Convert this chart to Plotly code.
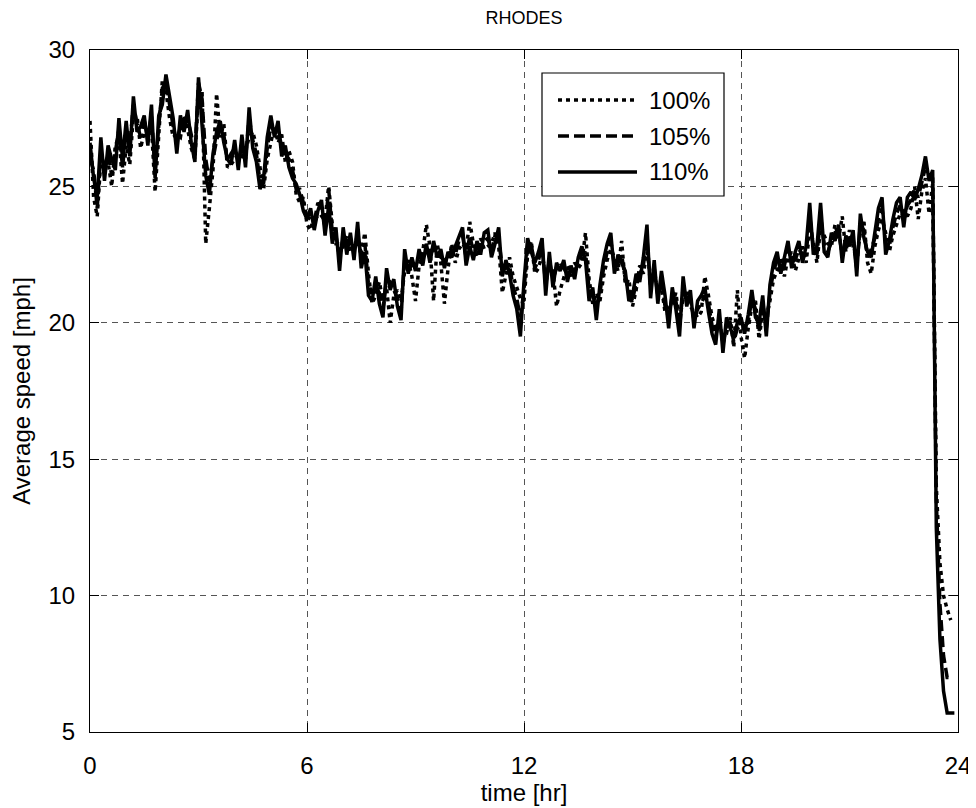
import plotly.graph_objects as go

# ---- data (average speed, mph) sampled every 0.1 hr ----
T_STEP = 0.1

speed_110 = [
    26.6, 25.3, 24.6, 26.8, 25.2, 26.5, 26.0, 25.6, 27.5, 26.0,
    27.4, 26.1, 28.3, 27.0, 27.2, 27.6, 26.5, 28.0, 25.3, 27.6,
    28.0, 29.1, 28.3, 27.5, 26.2, 27.6, 27.0, 27.8, 26.6, 25.9,
    29.0, 27.2, 25.4, 24.7, 26.2, 27.0, 27.4, 26.6, 26.0, 25.8,
    26.7, 25.6, 26.9, 25.7, 27.9, 26.4, 25.9, 24.9, 25.3, 26.8,
    27.6, 26.8, 27.4, 26.1, 26.5, 25.7, 25.3, 25.1, 24.7, 24.1,
    23.8, 24.2, 23.4, 24.1, 24.5, 23.2, 24.3, 22.9, 23.5, 21.9,
    23.5, 22.5, 23.3, 22.3, 23.7, 22.0, 22.6, 21.0, 20.8, 21.7,
    20.7, 20.2, 22.0, 21.2, 21.6, 20.6, 20.1, 22.7, 21.8, 22.4,
    21.9, 22.7, 22.1, 22.9, 22.2, 23.0, 22.4, 22.7, 22.0, 22.6,
    22.4, 22.8, 23.2, 23.5, 22.1, 22.8, 22.3, 23.0, 22.5, 23.3,
    23.4, 22.4, 22.9, 23.5, 21.7, 22.3, 21.8, 21.0, 20.5, 19.5,
    21.5, 23.1, 22.6, 22.2, 22.6, 23.1, 21.0, 22.6, 21.3, 22.2,
    21.9, 22.3, 21.5, 22.1, 21.6, 22.4, 22.8, 22.3, 20.8, 21.3,
    20.1, 21.4, 22.3, 22.9, 23.3, 21.8, 22.5, 22.2, 21.9, 20.8,
    21.0, 21.8, 21.5, 22.4, 23.6, 20.9, 22.3, 20.7, 21.9, 21.0,
    19.8, 21.3, 20.5, 19.5, 21.7, 20.6, 21.2, 19.8, 20.8, 21.0,
    21.3, 20.4, 19.6, 19.2, 20.5, 18.9, 20.2, 19.8, 19.5, 20.0,
    20.2, 19.6, 20.3, 21.2, 20.2, 20.0, 21.0, 19.5, 21.4, 22.2,
    22.6, 21.8, 22.4, 23.0, 22.0, 22.6, 23.0, 22.2, 22.8, 24.4,
    22.5, 22.8, 24.4, 22.6, 22.4, 23.3, 23.0, 23.6, 22.2, 23.2,
    22.8, 23.4, 21.7, 24.0, 23.1, 22.6, 22.4, 23.4, 24.2, 24.6,
    22.5, 23.0, 23.8, 24.4, 24.6, 23.5, 24.6, 24.8, 24.5, 24.9,
    25.4, 26.1, 25.2, 25.6, 12.5, 8.4, 6.5, 5.7, 5.7, 5.7,
]

speed_105 = [
    26.0, 25.6, 24.2, 26.3, 25.6, 26.2, 25.4, 26.3, 27.1, 25.7,
    27.0, 26.5, 28.0, 27.3, 26.8, 27.4, 26.8, 27.6, 25.6, 27.2,
    28.6, 28.8, 27.9, 27.2, 26.6, 27.2, 27.3, 27.5, 26.9, 26.2,
    28.8, 28.2, 26.0, 25.2, 26.0, 26.7, 27.1, 26.9, 25.9, 26.2,
    26.4, 25.9, 26.5, 26.0, 27.5, 26.7, 26.2, 25.2, 25.1, 26.4,
    27.2, 27.0, 27.0, 26.5, 26.2, 26.0, 25.6, 24.9, 24.9, 24.4,
    23.9, 23.8, 23.7, 24.4, 24.2, 23.5, 24.9, 23.3, 23.2, 22.4,
    23.1, 22.9, 23.0, 22.6, 23.3, 22.3, 22.9, 21.4, 21.1, 21.3,
    21.1, 20.5, 21.6, 21.5, 21.2, 20.9, 20.4, 22.3, 22.0, 22.1,
    22.2, 22.4, 22.4, 22.6, 22.5, 22.7, 22.6, 22.4, 22.3, 22.3,
    22.7, 22.5, 23.0, 23.2, 22.4, 23.2, 22.6, 22.7, 22.8, 23.0,
    23.1, 22.6, 23.2, 23.1, 22.0, 22.0, 22.1, 21.3, 20.9, 20.2,
    21.2, 22.8, 22.9, 22.0, 22.3, 22.8, 21.4, 22.3, 21.6, 22.0,
    22.1, 22.0, 21.8, 21.9, 21.9, 22.2, 22.5, 22.6, 21.2, 21.0,
    20.6, 21.1, 22.0, 22.6, 23.0, 22.1, 22.2, 22.5, 21.6, 21.2,
    20.8, 21.5, 21.8, 22.1, 23.1, 21.3, 22.0, 21.0, 21.6, 20.6,
    20.2, 21.0, 20.8, 19.8, 21.3, 20.9, 20.9, 20.1, 20.5, 20.7,
    21.0, 20.7, 19.9, 19.5, 20.2, 19.2, 19.9, 20.0, 19.3, 19.8,
    19.9, 19.9, 20.0, 20.9, 20.5, 19.7, 20.7, 19.8, 21.1, 21.9,
    22.3, 22.1, 22.1, 22.7, 22.3, 22.3, 22.7, 22.5, 22.5, 23.9,
    22.8, 22.5, 23.9, 22.9, 22.6, 23.0, 23.3, 23.3, 22.5, 22.9,
    23.1, 23.1, 22.0, 23.6, 23.4, 22.4, 22.7, 23.1, 23.8, 24.2,
    22.9, 22.8, 23.5, 24.0, 24.3, 23.8, 24.3, 24.5, 24.8, 24.6,
    25.1, 25.7, 25.5, 25.3, 13.5, 9.7, 7.8, 7.0, 7.0,
]

speed_100 = [
    27.4, 24.6, 23.9, 26.0, 25.8, 25.9, 25.0, 26.5, 26.8, 25.1,
    26.5, 25.8, 27.6, 27.6, 26.4, 27.0, 26.9, 27.2, 24.8, 26.8,
    28.9, 28.5, 27.5, 26.8, 26.9, 26.8, 27.6, 27.1, 26.4, 26.0,
    28.4, 28.4, 22.9, 24.2, 25.6, 28.4, 26.8, 27.3, 25.7, 25.8,
    26.0, 26.2, 26.1, 26.3, 26.8, 27.0, 26.5, 25.6, 24.9, 26.0,
    26.6, 27.2, 26.6, 26.9, 25.9, 26.3, 25.9, 24.7, 24.4, 24.6,
    23.6, 23.4, 24.0, 23.8, 23.9, 23.8, 25.0, 23.6, 22.9, 22.9,
    22.8, 23.2, 22.6, 22.9, 22.9, 22.6, 23.3, 21.8, 20.7, 21.0,
    21.5, 20.8, 21.3, 20.0, 21.0, 21.2, 20.8, 21.9, 22.3, 21.7,
    20.8, 22.1, 22.6, 23.6, 22.8, 20.8, 22.9, 22.2, 20.7, 22.0,
    22.9, 22.2, 22.7, 22.9, 22.7, 23.7, 22.9, 22.4, 23.1, 22.7,
    22.8, 22.9, 23.3, 22.8, 21.1, 21.8, 22.4, 21.7, 21.3, 20.9,
    20.8, 22.5, 23.0, 21.8, 22.0, 22.5, 21.8, 22.0, 21.9, 20.6,
    21.2, 21.7, 22.1, 21.7, 22.2, 22.0, 22.2, 23.3, 21.6, 20.7,
    21.1, 20.8, 21.7, 22.3, 22.7, 22.4, 21.9, 23.0, 21.4, 21.6,
    20.6, 21.2, 22.1, 21.8, 22.6, 21.7, 21.7, 21.3, 21.3, 20.4,
    20.6, 20.7, 21.1, 20.1, 20.9, 21.2, 20.6, 20.4, 20.2, 20.4,
    21.7, 21.0, 20.2, 19.8, 19.9, 19.5, 19.6, 20.2, 19.1, 21.2,
    19.5, 18.7, 19.8, 20.6, 20.8, 19.4, 20.4, 20.2, 20.8, 21.6,
    21.9, 22.4, 21.7, 22.4, 22.6, 21.9, 22.4, 22.8, 22.2, 23.4,
    23.0, 22.2, 23.5, 23.2, 22.9, 22.8, 23.6, 23.1, 23.9, 22.6,
    23.4, 22.8, 22.3, 23.3, 23.7, 22.2, 21.8, 22.8, 23.4, 23.8,
    23.3, 22.6, 23.2, 23.6, 24.0, 24.1, 23.9, 24.2, 25.0, 23.8,
    24.8, 25.3, 24.0, 25.1, 14.0, 11.2, 10.0, 9.5, 9.1,
]

series_names = ["100%", "105%", "110%"]
x_ticks = [0, 6, 12, 18, 24]
y_ticks = [5, 10, 15, 20, 25, 30]


def times(vals):
    return [round(i * T_STEP, 2) for i in range(len(vals))]


FONT = "Liberation Sans, Arial, Helvetica, sans-serif"
FS = 24
DASHES = {"100%": "4px,4px", "105%": "11px,5px", "110%": "solid"}
series = {"100%": speed_100, "105%": speed_105, "110%": speed_110}

fig = go.Figure()
for name in series_names:
    vals = series[name]
    fig.add_trace(go.Scatter(
        x=times(vals), y=vals, mode="lines", name=name,
        line=dict(color="black", width=3.5, dash=DASHES[name]),
        showlegend=False,
    ))

# The page body adds an 8 px margin, so the figure is shifted by OFF and
# sized to end exactly at the 976x808 window edge.
OFF = 8
W, H = 968, 800
PAGE_L, PAGE_R, PAGE_T, PAGE_B = 90, 958, 50, 732
L, T = PAGE_L - OFF, PAGE_T - OFF
R = W - (PAGE_R - OFF)
B = H - (PAGE_B - OFF)
PW, PH = W - L - R, H - T - B


def px(x):
    return (x - OFF - L) / PW


def py(y):
    return (H - B - (y - OFF)) / PH


shapes = [dict(type="rect", xref="paper", yref="paper",
               x0=px(542), x1=px(724), y0=py(196), y1=py(73),
               fillcolor="white", line=dict(color="black", width=1.2),
               layer="above")]
annotations = []
legend_rows = [100, 136, 172]
for name, yy in zip(series_names, legend_rows):
    shapes.append(dict(type="line", xref="paper", yref="paper",
                       x0=px(558), x1=px(637), y0=py(yy), y1=py(yy),
                       line=dict(color="black", width=3.5, dash=DASHES[name]),
                       layer="above"))
    annotations.append(dict(xref="paper", yref="paper", x=px(647), y=py(yy),
                            text=name, showarrow=False, xanchor="left",
                            yanchor="middle",
                            font=dict(family=FONT, size=FS, color="black")))

axis_common = dict(
    showline=True, linecolor="black", linewidth=1.2, mirror="ticks",
    ticks="inside", ticklen=9, tickwidth=1, tickcolor="black",
    showgrid=True, gridcolor="#555555", gridwidth=1, griddash="6px,5px",
    zeroline=False, tickfont=dict(family=FONT, size=FS, color="black"),
)

fig.update_layout(
    width=W, height=H,
    margin=dict(l=L, r=R, t=T, b=B, autoexpand=False),
    paper_bgcolor="white", plot_bgcolor="white",
    title=dict(text="RHODES", x=(L + PW / 2) / W, xanchor="center",
               y=1 - 10 / H, yanchor="middle",
               font=dict(family=FONT, size=18, color="black")),
    xaxis=dict(range=[0, 24], tickvals=x_ticks, ticklabelstandoff=12,
               **axis_common,
               title=dict(text="time [hr]", standoff=4,
                          font=dict(family=FONT, size=FS, color="black"))),
    yaxis=dict(range=[5, 30], tickvals=y_ticks, ticklabelstandoff=9,
               **axis_common,
               title=dict(text="Average speed [mph]", standoff=18,
                          font=dict(family=FONT, size=FS, color="black"))),
    shapes=shapes, annotations=annotations,
    showlegend=False,
)

fig.write_html("out.html")
